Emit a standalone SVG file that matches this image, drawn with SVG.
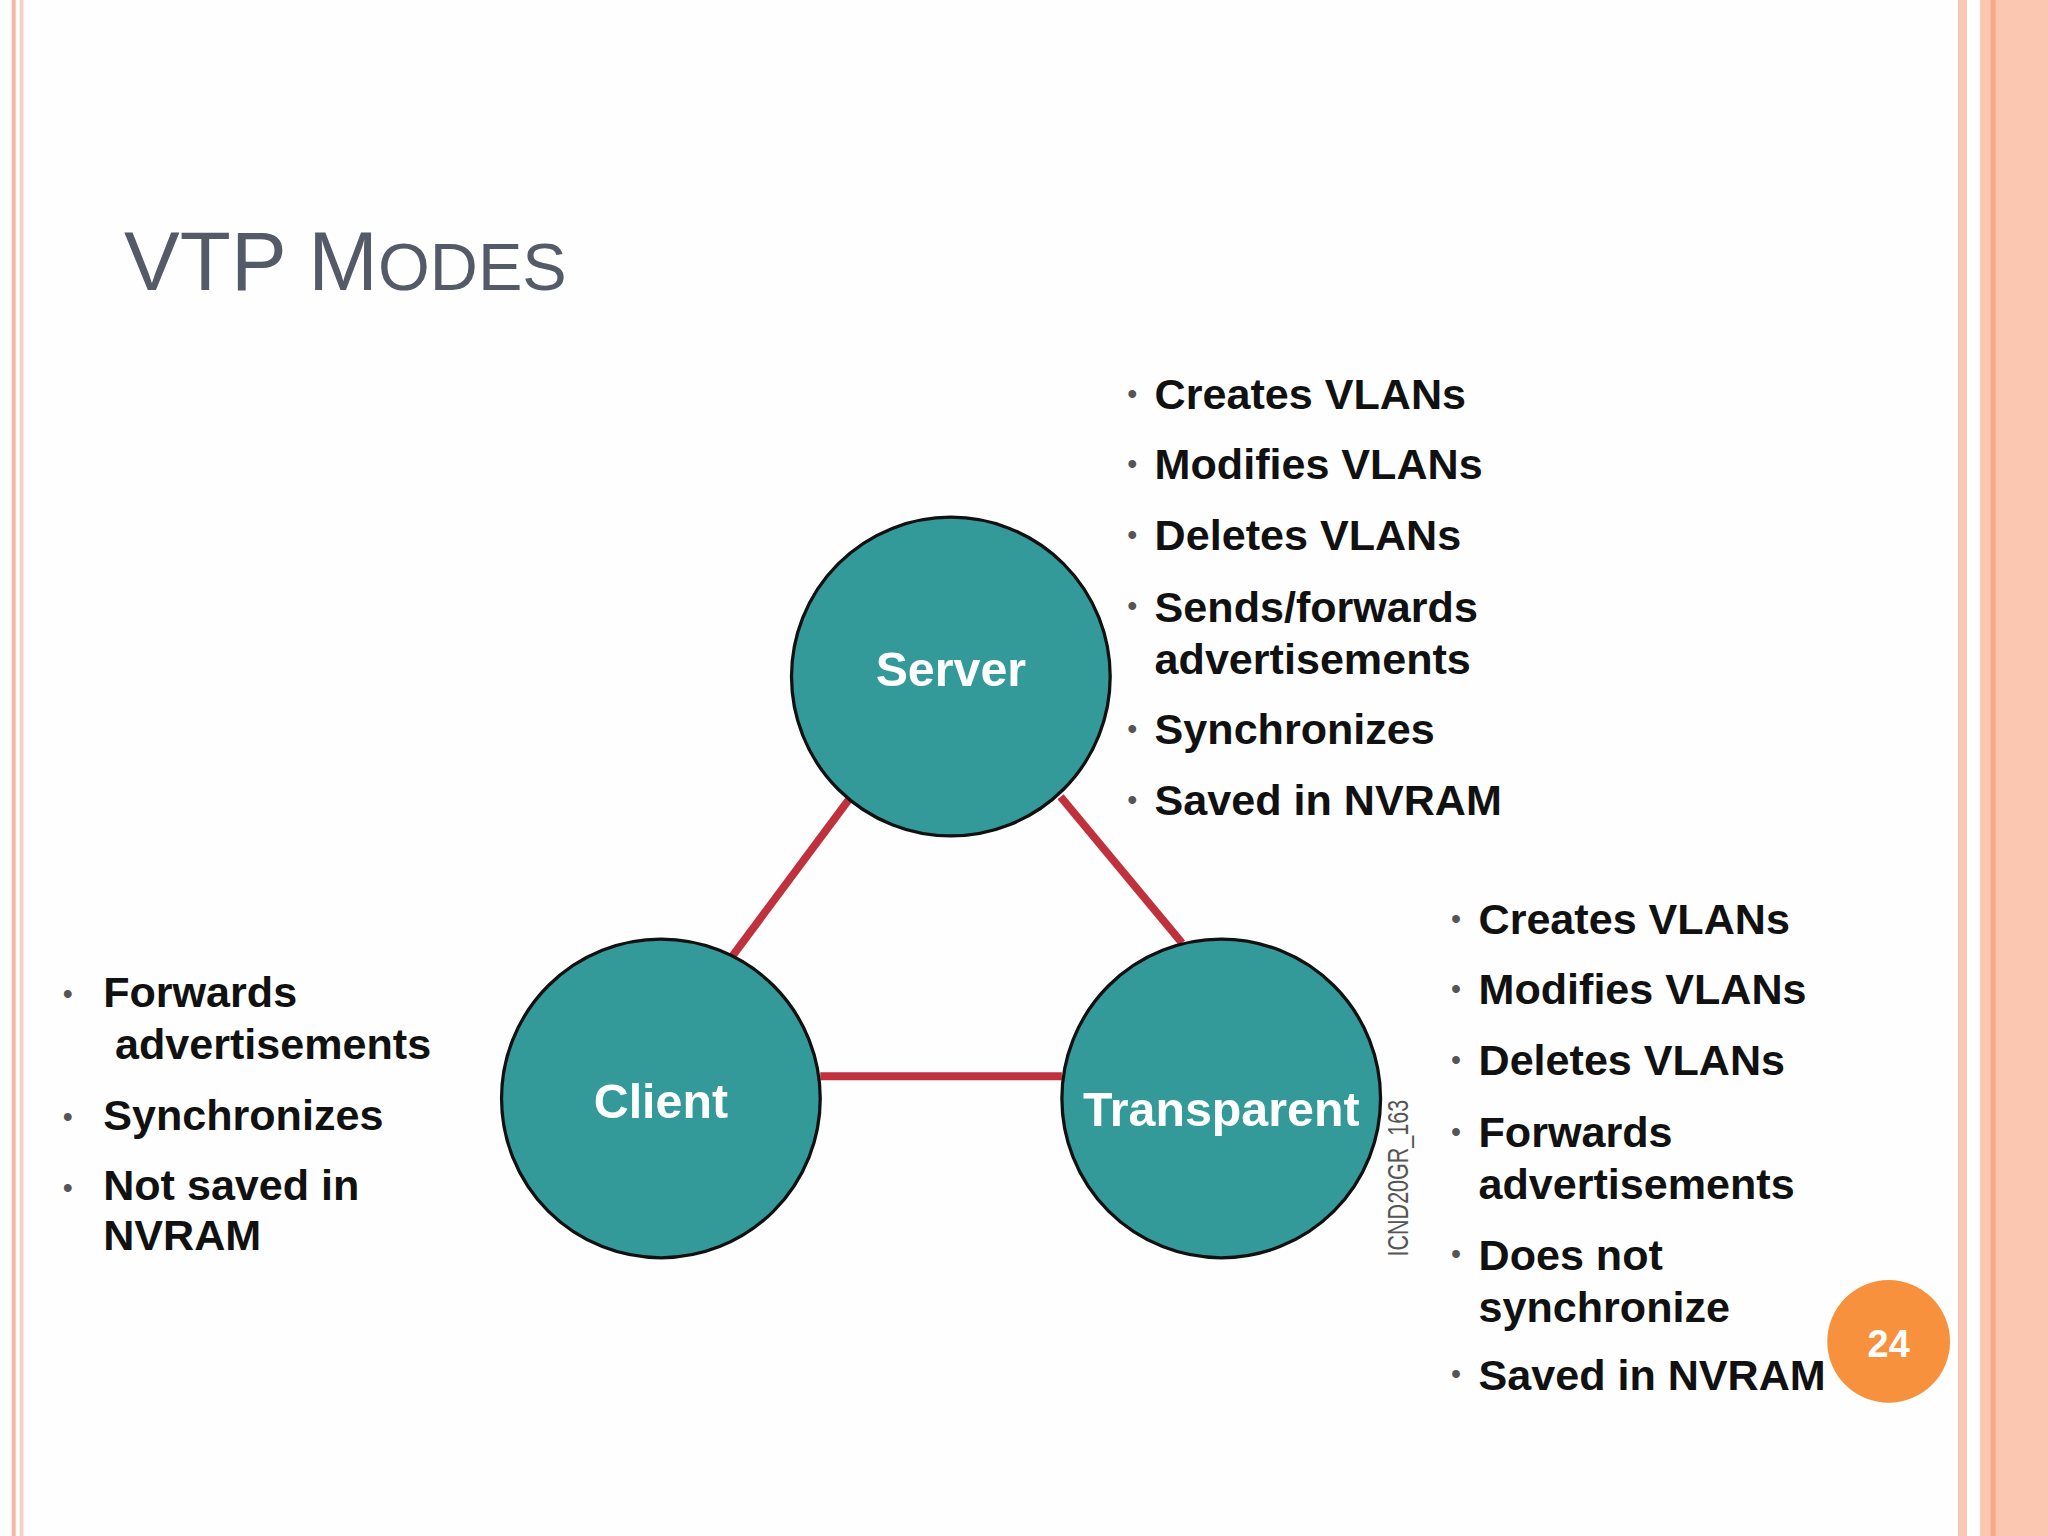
<svg xmlns="http://www.w3.org/2000/svg" width="2048" height="1536" viewBox="0 0 2048 1536">
<style>
.b{font-family:"Liberation Sans",Arial,sans-serif;font-weight:bold;font-size:33px;fill:#111}
.d{font-family:"Liberation Sans",Arial,sans-serif;font-size:22px;fill:#555}
.n{fill:#339999;stroke:#111;stroke-width:2.5}
.l{font-family:"Liberation Sans",Arial,sans-serif;font-weight:bold;font-size:37px;fill:#fff;text-anchor:middle}
.c{stroke:#c0313e;stroke-width:6}
</style>
<rect width="2048" height="1536" fill="#fdfefd"/>
<g transform="scale(1.30612)">
<rect x="9" y="0" width="3" height="1176" fill="#f4b9a5"/>
<rect x="15" y="0" width="3" height="1176" fill="#f8d0c2"/>
<rect x="1499" y="0" width="7" height="1176" fill="#f8c8b6"/>
<rect x="1516" y="0" width="52" height="1176" fill="#fbc7b0"/>
<rect x="1524" y="0" width="4" height="1176" fill="#f7a98d"/>
<text x="95" y="222" font-family="Liberation Sans,Arial,sans-serif" fill="#545a68"><tspan font-size="64">VTP M</tspan><tspan font-size="51">ODES</tspan></text>
<g id="connectors">
<line class="c" x1="650" y1="612" x2="560" y2="733"/>
<line class="c" x1="812" y1="610" x2="905" y2="722"/>
<line class="c" x1="628" y1="824" x2="813" y2="824"/>
</g>
<g id="server"><circle class="n" cx="728" cy="518" r="122"/><text class="l" x="728" y="525">Server</text></g>
<g id="client"><circle class="n" cx="506" cy="841" r="122"/><text class="l" x="506" y="856">Client</text></g>
<g id="transparent"><circle class="n" cx="935" cy="841" r="122"/><text class="l" x="935" y="862">Transparent</text></g>
<text class="d" transform="translate(1078,962) rotate(-90)" font-size="14" textLength="120" lengthAdjust="spacingAndGlyphs">ICND20GR_163</text>
<g id="server-list">
<text class="d" x="863" y="309">•</text><text class="b" x="884" y="313">Creates VLANs</text>
<text class="d" x="863" y="363">•</text><text class="b" x="884" y="367">Modifies VLANs</text>
<text class="d" x="863" y="417">•</text><text class="b" x="884" y="421">Deletes VLANs</text>
<text class="d" x="863" y="472">•</text><text class="b" x="884" y="476">Sends/forwards</text>
<text class="b" x="884" y="516">advertisements</text>
<text class="d" x="863" y="566">•</text><text class="b" x="884" y="570">Synchronizes</text>
<text class="d" x="863" y="620">•</text><text class="b" x="884" y="624">Saved in NVRAM</text>
</g>
<g id="transparent-list">
<text class="d" x="1111" y="711">•</text><text class="b" x="1132" y="715">Creates VLANs</text>
<text class="d" x="1111" y="765">•</text><text class="b" x="1132" y="769">Modifies VLANs</text>
<text class="d" x="1111" y="819">•</text><text class="b" x="1132" y="823">Deletes VLANs</text>
<text class="d" x="1111" y="874">•</text><text class="b" x="1132" y="878">Forwards</text>
<text class="b" x="1132" y="918">advertisements</text>
<text class="d" x="1111" y="968">•</text><text class="b" x="1132" y="972">Does not</text>
<text class="b" x="1132" y="1012">synchronize</text>
<text class="d" x="1111" y="1060">•</text><text class="b" x="1132" y="1064">Saved in NVRAM</text>
</g>
<g id="client-list">
<text class="d" x="48" y="769">•</text><text class="b" x="79" y="771">Forwards</text>
<text class="b" x="88" y="811">advertisements</text>
<text class="d" x="48" y="863">•</text><text class="b" x="79" y="865">Synchronizes</text>
<text class="d" x="48" y="917">•</text><text class="b" x="79" y="919">Not saved in</text>
<text class="b" x="79" y="957">NVRAM</text>
</g>
<g id="page"><circle cx="1446" cy="1027" r="47" fill="#f7913d"/><text x="1446" y="1039" text-anchor="middle" font-family="Liberation Sans,Arial,sans-serif" font-weight="bold" font-size="29" fill="#fff">24</text></g>
</g>
</svg>
